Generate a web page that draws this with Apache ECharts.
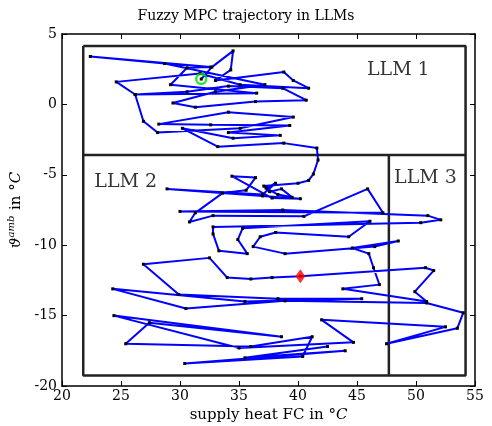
<!DOCTYPE html>
<html>
<head>
<meta charset="utf-8">
<script src="https://cdn.jsdelivr.net/npm/echarts@6/dist/echarts.min.js"></script>
<style>
  html, body { margin: 0; padding: 0; background: #fff; }
  #chart-container { width: 492px; height: 426px; }
</style>
</head>
<body>
<div id="chart-container"></div>
<script>
// trajectory points [supply heat FC, theta_amb]
var trajectory = [
  [31.8, 1.8], [32.7, 2.65], [34.5, 3.8], [34.3, 2.45], [33.0, 1.7], [38.8, 2.3], [39.6, 1.7],
  [40.9, 1.15], [35.1, 1.4], [31.7, 2.2], [24.6, 1.6], [26.2, 0.7], [30.6, 0.9], [34.1, 1.3],
  [38.7, 1.15], [40.7, 0.3], [36.4, 0.2], [31.3, -0.2], [29.4, 0.1], [33.0, 0.9], [37.2, 1.4],
  [28.7, 2.9], [22.4, 3.4], [32.6, 2.65], [30.6, 2.6], [29.2, 1.4], [36.5, 0.8], [26.2, 0.7],
  [26.9, -1.2], [28.1, -2.0], [35.1, -1.7], [39.6, -0.9], [34.1, -0.55], [28.2, -1.4], [32.6, -1.45],
  [39.3, -1.5], [34.1, -2.0], [38.5, -2.2], [34.5, -2.4], [30.2, -1.7], [33.2, -3.0], [38.8, -2.75],
  [41.6, -3.1], [41.7, -3.95], [41.3, -4.95], [40.9, -5.4], [40.0, -5.6],
  [37.1, -5.8], [37.6, -6.2], [38.6, -6.0], [39.5, -6.6], [38.3, -6.4],
  [37.3, -5.95], [38.1, -5.6], [37.0, -6.4], [28.9, -6.0], [37.0, -6.5], [40.2, -6.7], [37.8, -6.65],
  [34.4, -5.1], [36.4, -5.2], [35.6, -6.1], [33.6, -6.3], [31.3, -7.7], [30.8, -8.35], [32.8, -7.9],
  [40.5, -7.95], [45.9, -6.0], [47.2, -7.7], [30.0, -7.6], [38.7, -7.5], [51.0, -7.9], [52.1, -8.2],
  [50.4, -8.4], [32.8, -8.7], [32.8, -9.2], [33.3, -10.4], [35.7, -10.6], [34.9, -9.6], [35.3, -8.8],
  [46.1, -8.3], [44.3, -9.4], [38.1, -9.1], [36.8, -9.4], [36.2, -10.1], [38.9, -10.6], [46.5, -10.1],
  [48.5, -9.7], [44.6, -10.2], [46.0, -10.6], [46.4, -11.6], [46.9, -12.8], [43.8, -13.1], [50.9, -14.0],
  [49.9, -13.3], [51.5, -11.8], [50.8, -11.6], [40.2, -12.2], [37.8, -12.3], [36.0, -12.4], [34.0, -12.3],
  [32.5, -10.9], [26.9, -11.35], [29.9, -13.5], [38.3, -13.8], [45.4, -13.8], [35.5, -14.0], [24.3, -13.1],
  [30.5, -14.5], [38.9, -13.95], [50.9, -14.1], [54.0, -14.8], [53.5, -15.9], [47.5, -17.0], [52.5, -15.8],
  [42.0, -15.3], [44.7, -16.9], [35.0, -17.3], [24.4, -15.0], [38.6, -16.5], [27.4, -15.5], [25.4, -17.0],
  [36.0, -17.2], [41.2, -16.5], [40.4, -17.9], [30.4, -18.4], [44.0, -17.5], [35.5, -18.0], [42.5, -17.2]
];
var startPoint = [[31.8, 1.8]];
var endPoint = [[40.2, -12.2]];

// LLM region borders
var llmX = [21.8, 47.7, 54.2];
var llmY = [4.15, -3.6, -19.25];

var xTicks = [20, 25, 30, 35, 40, 45, 50, 55];
var yTicks = [-20, -15, -10, -5, 0, 5];

var myChart = echarts.init(document.getElementById('chart-container'));
var serif = 'DejaVu Serif';

var boxLine = { color: '#222', width: 2.5 };
function edge(pts) {
  return {
    type: 'line', data: pts, symbol: 'none', silent: true,
    lineStyle: boxLine, z: 1
  };
}

var option = {
  animation: false,
  title: {
    text: 'Fuzzy MPC trajectory in LLMs',
    left: 'center', top: 4,
    textStyle: { fontFamily: serif, fontSize: 14, fontWeight: 'normal', color: '#000' }
  },
  grid: { left: 62, right: 17, top: 34, bottom: 40, outerBoundsMode: 'none' },
  xAxis: [{
    type: 'value', min: xTicks[0], max: xTicks[xTicks.length - 1], interval: 5,
    name: '{n|supply heat FC in °}{i|C}', nameLocation: 'middle', nameGap: 21,
    nameTextStyle: {
      fontFamily: serif, fontSize: 15, color: '#000',
      rich: {
        n: { fontFamily: serif, fontSize: 15, color: '#000' },
        i: { fontFamily: serif, fontSize: 15, color: '#000', fontStyle: 'italic' }
      }
    },
    axisLine: { onZero: false, lineStyle: { color: '#000', width: 1.5 } },
    axisTick: { inside: true, length: 5, lineStyle: { color: '#000' } },
    axisLabel: { fontFamily: serif, fontSize: 14, color: '#000', margin: 3 },
    splitLine: { show: false }
  }, {
    type: 'value', position: 'top', min: 20, max: 55, interval: 5,
    axisLine: { onZero: false, lineStyle: { color: '#000', width: 1.5 } },
    axisTick: { inside: true, length: 5, lineStyle: { color: '#000' } },
    axisLabel: { show: false }, splitLine: { show: false }
  }],
  yAxis: [{
    type: 'value', min: yTicks[0], max: yTicks[yTicks.length - 1], interval: 5,
    name: '{g|ϑ}{s|amb}{n| in °}{i|C}', nameLocation: 'middle', nameGap: 25, nameRotate: 90,
    nameTextStyle: {
      fontFamily: serif, fontSize: 15, color: '#000',
      rich: {
        g: { fontFamily: serif, fontSize: 15, fontStyle: 'italic', color: '#000' },
        s: { fontFamily: serif, fontSize: 10, fontStyle: 'italic', color: '#000', padding: [0, 1, 10, 0] },
        n: { fontFamily: serif, fontSize: 15, color: '#000' },
        i: { fontFamily: serif, fontSize: 15, fontStyle: 'italic', color: '#000' }
      }
    },
    axisLine: { onZero: false, lineStyle: { color: '#000', width: 1.5 } },
    axisTick: { inside: true, length: 5, lineStyle: { color: '#000' } },
    axisLabel: { fontFamily: serif, fontSize: 14, color: '#000', margin: 5 },
    splitLine: { show: false }
  }, {
    type: 'value', position: 'right', min: -20, max: 5, interval: 5,
    axisLine: { onZero: false, lineStyle: { color: '#000', width: 1.5 } },
    axisTick: { inside: true, length: 5, lineStyle: { color: '#000' } },
    axisLabel: { show: false }, splitLine: { show: false }
  }],
  series: [
    edge([[llmX[0], llmY[0]], [llmX[2], llmY[0]], [llmX[2], llmY[2]], [llmX[0], llmY[2]], [llmX[0], llmY[0]]]),
    edge([[llmX[0], llmY[1]], [llmX[2], llmY[1]]]),
    edge([[llmX[1], llmY[1]], [llmX[1], llmY[2]]]),
    {
      type: 'scatter', silent: true, symbolSize: 0, z: 2,
      data: [
        { name: 'LLM 1', value: [48.5, 2.45] },
        { name: 'LLM 2', value: [25.4, -5.5] },
        { name: 'LLM 3', value: [50.8, -5.2] }
      ],
      label: {
        show: true, position: 'inside', formatter: '{b}',
        fontFamily: serif, fontSize: 19, color: '#000'
      }
    },
    {
      type: 'line', data: trajectory, z: 3,
      symbol: 'rect', symbolSize: 3, showSymbol: true,
      itemStyle: { color: '#000' },
      lineStyle: { color: '#0000ff', width: 2 }
    },
    {
      type: 'scatter', data: startPoint, z: 4, symbol: 'circle', symbolSize: 10,
      itemStyle: { color: 'rgba(0,0,0,0)', borderColor: '#00e000', borderWidth: 2.5 }
    },
    {
      type: 'scatter', data: endPoint, z: 4, symbol: 'diamond', symbolSize: [10, 14],
      itemStyle: { color: '#ff0000' }
    }
  ]
};
myChart.setOption(option);
</script>
</body>
</html>
